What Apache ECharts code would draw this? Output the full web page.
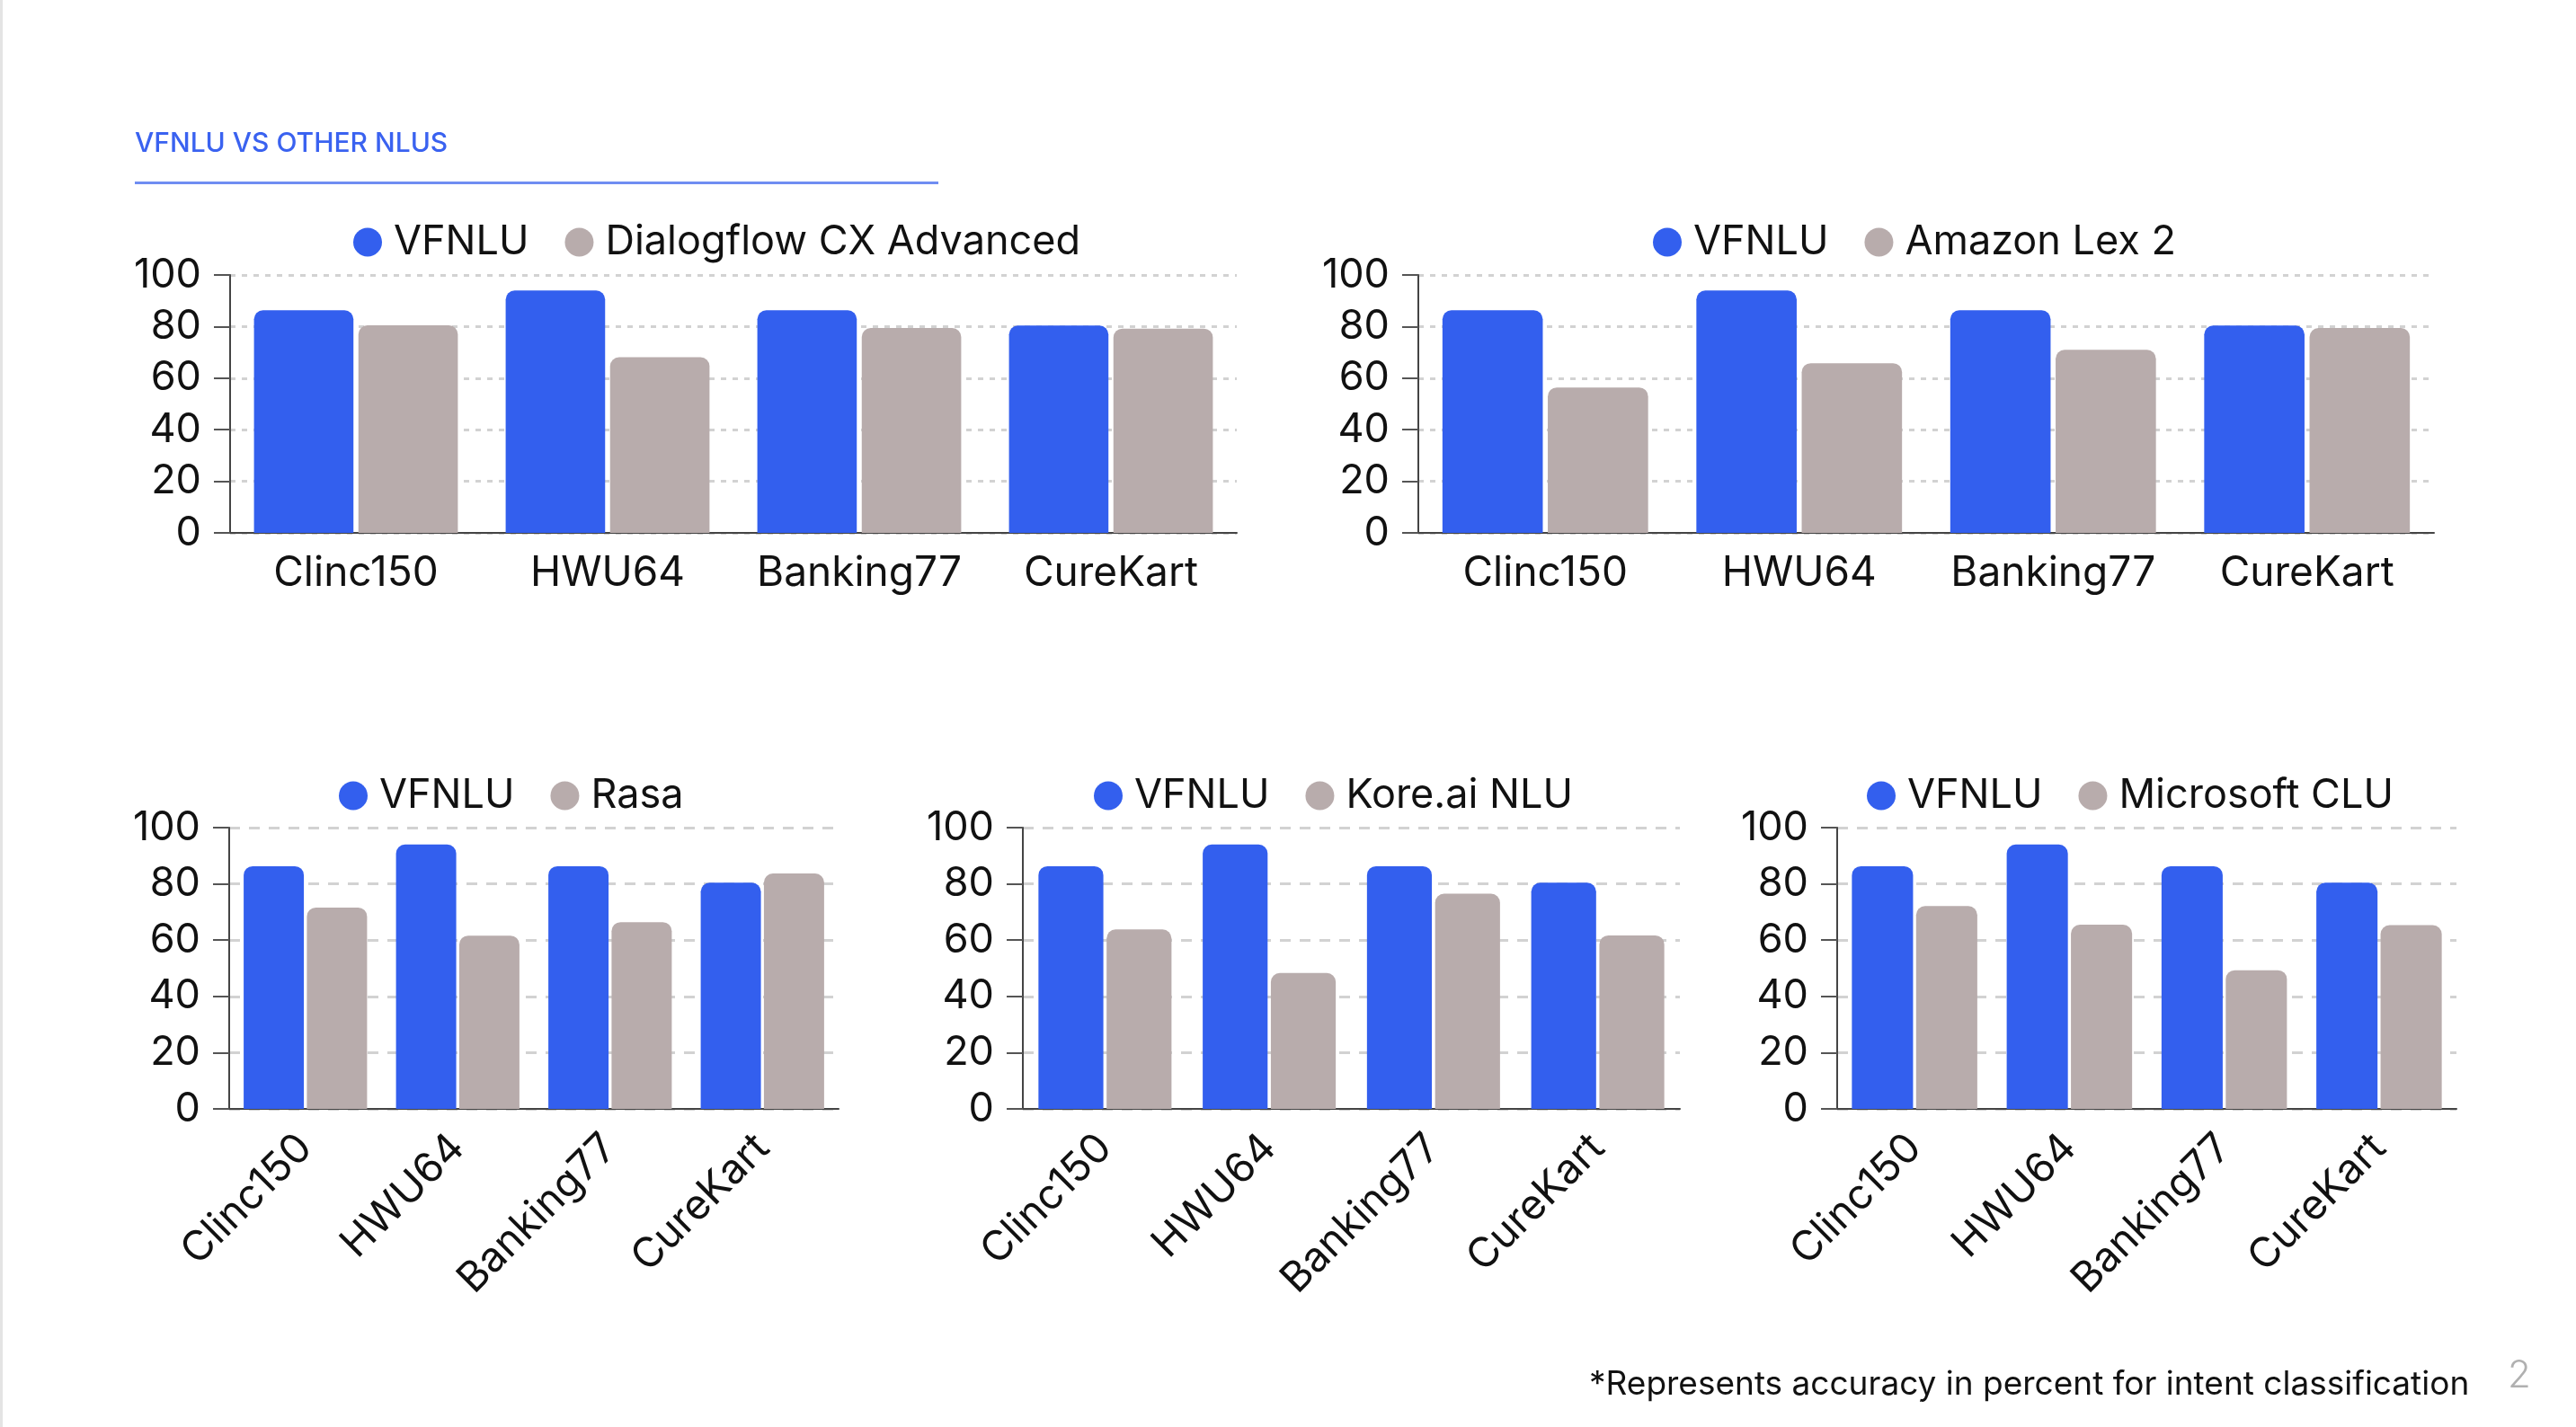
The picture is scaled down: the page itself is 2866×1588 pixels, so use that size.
<!DOCTYPE html>
<html>
<head>
<meta charset="utf-8">
<script src="https://cdn.jsdelivr.net/npm/echarts@6/dist/echarts.min.js"></script>
<style>
html,body{margin:0;padding:0;background:#fff;}
#c{width:2866px;height:1588px;}
</style>
</head>
<body>
<div id="c"></div>
<script>
const categories = ['Clinc150', 'HWU64', 'Banking77', 'CureKart'];
const vfnlu = [86.3, 94.0, 86.3, 80.4];
const dialogflow = [80.5, 68.1, 79.4, 79.2];
const amazonLex = [56.4, 65.8, 71.0, 79.4];
const rasa = [71.6, 61.6, 66.4, 83.7];
const koreai = [63.8, 48.3, 76.5, 61.7];
const microsoft = [72.1, 65.5, 49.3, 65.3];
const competitorNames = ['Dialogflow CX Advanced', 'Amazon Lex 2', 'Rasa', 'Kore.ai NLU', 'Microsoft CLU'];
const competitorValues = [dialogflow, amazonLex, rasa, koreai, microsoft];
const mainName = 'VFNLU';
const titleText = 'VFNLU VS OTHER NLUS';
const footText = '*Represents accuracy in percent for intent classification';
const pageText = '2';

const FONT = 'Inter, "Noto Sans", sans-serif';
const BLUE = '#335FEE';
const GRAY = '#B8ACAC';

const grids = [
  {left: 256, right: 1490, top: 306, bottom: 995},
  {left: 1578, right: 158, top: 306, bottom: 995},
  {left: 255, right: 1933, top: 921, bottom: 354},
  {left: 1138, right: 997, top: 921, bottom: 354},
  {left: 2044, right: 133, top: 921, bottom: 354}
];
const legendPos = [
  {left: 388, top: 242},
  {left: 1834, top: 242},
  {left: 372, top: 858},
  {left: 1212, top: 858},
  {left: 2072, top: 858}
];

const xAxes = [], yAxes = [], series = [], legends = [];
grids.forEach((g, i) => {
  const bottomRow = i >= 2;
  xAxes.push({
    type: 'category', gridIndex: i, data: categories,
    axisLine: {show: true, lineStyle: {color: '#444', width: 2}},
    axisTick: {show: false},
    axisLabel: {
      fontFamily: FONT, fontSize: 46, color: '#111',
      margin: bottomRow ? 36 : 22, rotate: bottomRow ? 45 : 0, interval: 0
    }
  });
  yAxes.push({
    type: 'value', gridIndex: i, min: 0, max: 100, interval: 20,
    axisLine: {show: true, lineStyle: {color: '#444', width: 2}},
    axisTick: {show: true, length: 18, lineStyle: {color: '#555', width: 2}},
    axisLabel: {fontFamily: FONT, fontSize: 45, color: '#111', margin: 32},
    splitLine: {show: true, lineStyle: {color: '#d2d2d2', width: 3, type: bottomRow ? [12, 10] : [6, 7]}}
  });
  series.push({
    name: mainName, type: 'bar', xAxisIndex: i, yAxisIndex: i,
    data: vfnlu, barCategoryGap: '19%', barGap: '5%',
    itemStyle: {color: BLUE, borderRadius: [10, 10, 0, 0]}
  });
  series.push({
    name: competitorNames[i], type: 'bar', xAxisIndex: i, yAxisIndex: i,
    data: competitorValues[i], barCategoryGap: '19%', barGap: '5%',
    itemStyle: {color: GRAY, borderRadius: [10, 10, 0, 0]}
  });
  legends.push({
    left: legendPos[i].left, top: legendPos[i].top,
    data: [mainName, competitorNames[i]],
    icon: 'circle', itemWidth: 32, itemHeight: 32, itemGap: 40,
    selectedMode: false,
    textStyle: {fontFamily: FONT, fontSize: 45, color: '#111', padding: [0, 0, 0, 8]}
  });
});

const chart = echarts.init(document.getElementById('c'), null, {renderer: 'canvas'});
chart.setOption({
  animation: false,
  backgroundColor: '#fff',
  grid: grids,
  xAxis: xAxes,
  yAxis: yAxes,
  legend: legends,
  series: series,
  graphic: [
    {type: 'rect', left: 0, top: 0, shape: {width: 3, height: 1588}, style: {fill: '#e4e4e4'}},
    {type: 'text', left: 150, top: 145, style: {text: titleText, fontFamily: FONT, fontSize: 30, fontWeight: 500, fill: '#3A62F0'}},
    {type: 'rect', left: 150, top: 202, shape: {width: 894, height: 3}, style: {fill: '#6F8DF2'}},
    {type: 'text', left: 1768, top: 1522, style: {text: footText, fontFamily: FONT, fontSize: 37, fill: '#111'}},
    {type: 'text', left: 2790, top: 1510, style: {text: pageText, fontFamily: FONT, fontSize: 42, fontWeight: 300, fill: '#b0b0b0'}}
  ]
});
</script>
</body>
</html>
